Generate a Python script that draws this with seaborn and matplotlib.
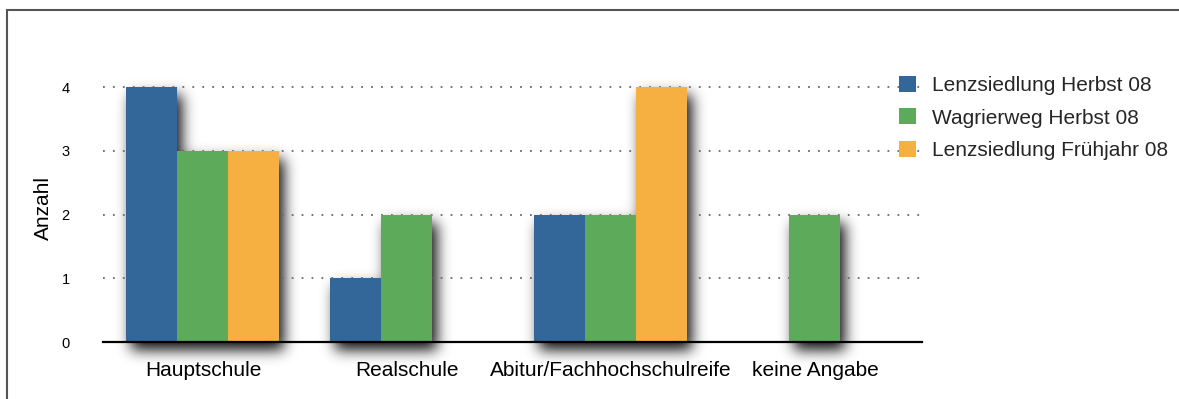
import numpy as np
import pandas as pd
import matplotlib
matplotlib.use("Agg")
import matplotlib.pyplot as plt
from matplotlib.patches import Rectangle, Patch
import seaborn as sns

# ---- data ----
categories = ["Hauptschule", "Realschule", "Abitur/Fachhochschulreife", "keine Angabe"]
series = ["Lenzsiedlung Herbst 08", "Wagrierweg Herbst 08", "Lenzsiedlung Frühjahr 08"]
lenz_herbst_08 = [4, 1, 2, np.nan]
wagrierweg_herbst_08 = [3, 2, 2, 2]
lenz_fruehjahr_08 = [3, np.nan, 4, np.nan]
y_ticks = [0, 1, 2, 3, 4]
y_label = "Anzahl"
colors = ["#336699", "#5caa5a", "#f6b042"]

df = pd.DataFrame({
    "Kategorie": categories * 3,
    "Serie": [s for s in series for _ in categories],
    "Anzahl": lenz_herbst_08 + wagrierweg_herbst_08 + lenz_fruehjahr_08,
})

sns.set_theme(style="white")
plt.rcParams['font.family'] = ['Liberation Sans', 'DejaVu Sans']

W, H = 1179, 399
fig = plt.figure(figsize=(W / 100, H / 100), dpi=100)
fig.patch.set_facecolor("white")

unit_px = 63.75
ymax = 4.2
ax = fig.add_axes([103 / W, 57 / H, 819 / W, ymax * unit_px / H])
ax.patch.set_alpha(0)

sns.barplot(data=df, x="Kategorie", y="Anzahl", hue="Serie",
            order=categories, hue_order=series, palette=colors,
            width=0.75, saturation=1, errorbar=None, linewidth=0,
            legend=False, ax=ax)
for p in ax.patches:
    p.set_zorder(3)

ax.set_xlim(-0.49, 3.525)
ax.set_ylim(0, ymax)
ax.set_yticks(y_ticks)
ax.set_yticklabels([str(t) for t in y_ticks])
ax.yaxis.grid(True, color="#6a6a6a", linestyle=(0, (1, 4.5)), linewidth=1.3)
ax.xaxis.grid(False)
ax.set_axisbelow(True)
for s in ["top", "right", "left"]:
    ax.spines[s].set_visible(False)
ax.spines["bottom"].set_color("black")
ax.spines["bottom"].set_linewidth(1.6)
ax.spines["bottom"].set_zorder(5)
ax.tick_params(axis="y", length=0, pad=24, labelsize=10.5, labelcolor="black")
ax.tick_params(axis="x", length=0, pad=14, labelsize=15, labelcolor="black")
ax.set_xlabel("")
ax.set_ylabel(y_label, fontsize=15, color="black", labelpad=6)

handles = [Patch(facecolor=c, edgecolor="none") for c in colors]
ax.legend(handles, series, loc="upper left",
          bbox_to_anchor=(899 / W, 1 - 76 / H), bbox_transform=fig.transFigure,
          frameon=False, fontsize=15, handlelength=0.82, handleheight=0.82,
          handletextpad=0.78, labelspacing=0.62, borderpad=0, borderaxespad=0)

# outer frame (top and left edges visible)
fig.patches.append(Rectangle((7 / W, -0.5), 2, 0.5 + (1 - 10 / H),
                             transform=fig.transFigure, fill=False,
                             edgecolor="#555555", linewidth=1.5))

# ---- soft drop shadow computed from the drawn bars ----
fig.canvas.draw()
mask = np.zeros((H, W))
for p in ax.patches:
    bb = p.get_window_extent()
    if not np.all(np.isfinite([bb.x0, bb.x1, bb.y0, bb.y1])) or bb.width < 1 or bb.height < 1:
        continue
    x0, x1 = int(round(bb.x0)), int(round(bb.x1))
    y0, y1 = int(round(bb.y0)), int(round(bb.y1))
    mask[max(y0, 0):min(y1, H), max(x0, 0):min(x1, W)] = 1.0

shift_x, shift_y = 5, -8
mask = np.roll(mask, shift_x, axis=1)
mask = np.roll(mask, shift_y, axis=0)

sigma = 7.0
r = int(3 * sigma)
k = np.exp(-np.arange(-r, r + 1) ** 2 / (2 * sigma ** 2))
k /= k.sum()
pad = np.pad(mask, r, mode="constant")
tmp = np.zeros_like(pad)
for i, kv in enumerate(k):
    tmp += kv * np.roll(pad, i - r, axis=1)
blur = np.zeros_like(pad)
for i, kv in enumerate(k):
    blur += kv * np.roll(tmp, i - r, axis=0)
blur = blur[r:-r, r:-r]

rgba = np.zeros((H, W, 4))
rgba[..., 3] = np.clip(blur * 0.95, 0, 1)
fig.figimage(rgba, xo=0, yo=0, origin="lower", zorder=-1)

fig.savefig("out.png", dpi=100)
